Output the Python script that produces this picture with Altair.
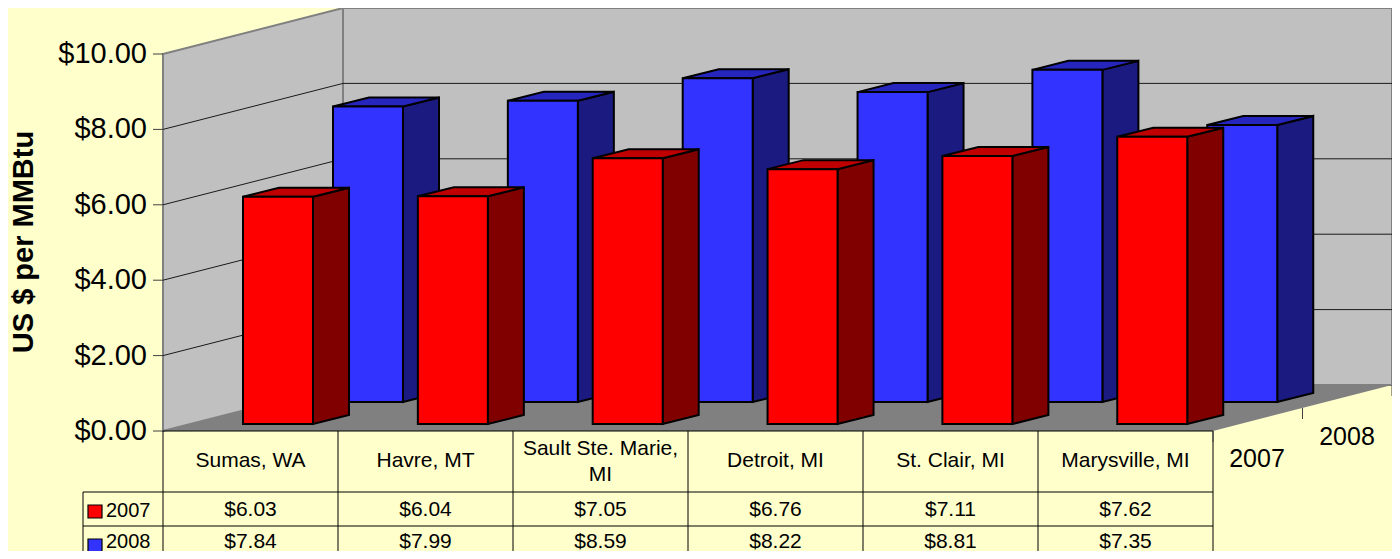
import altair as alt
import pandas as pd

categories = ["Sumas, WA", "Havre, MT", "Sault Ste. Marie,\nMI", "Detroit, MI", "St. Clair, MI", "Marysville, MI"]
series_names = ["2007", "2008"]
values_2007 = [6.03, 6.04, 7.05, 6.76, 7.11, 7.62]
values_2008 = [7.84, 7.99, 8.59, 8.22, 8.81, 7.35]
y_ticks = [0, 2, 4, 6, 8, 10]
y_title = "US $ per MMBtu"

# layout of the oblique projection, in page pixels
W, H = 1384, 543
PX = 37.7
Y0 = 431
xs = alt.Scale(domain=[8, 1392], nice=False, zero=False)
ys = alt.Scale(domain=[(Y0 - 551) / PX, (Y0 - 8) / PX], nice=False, zero=False)


def d(py):
    return (Y0 - py) / PX


X_ENC = alt.X("x:Q", scale=xs, axis=None)
Y_ENC = alt.Y("y:Q", scale=ys, axis=None, stack=None)


def poly(points, fill, stroke=None, sw=1.0):
    kw = {"fill": fill, "opacity": 1}
    if stroke:
        kw.update(stroke=stroke, strokeWidth=sw)
    return alt.Chart(pd.DataFrame(points)).mark_area(**kw).encode(
        x=X_ENC, y=Y_ENC, y2="y2:Q", detail="id:N"
    )


WALL_L, WALL_B, WALL_R, FLOOR_R = 163, 343, 1392, 1213
DEPTH = d(385)  # value shift of the back wall
TOP = 10

layers = []

# walls and floor
layers.append(poly([
    dict(x=WALL_B, y=TOP + DEPTH, y2=DEPTH, id="b"),
    dict(x=WALL_R, y=TOP + DEPTH, y2=DEPTH, id="b"),
], "#C0C0C0", "#808080", 2))
layers.append(poly([
    dict(x=WALL_L, y=TOP, y2=0, id="l"),
    dict(x=WALL_B, y=TOP + DEPTH, y2=DEPTH, id="l"),
], "#C0C0C0", "#808080", 2))
layers.append(poly([
    dict(x=WALL_L, y=0, y2=0, id="f"),
    dict(x=WALL_B, y=DEPTH, y2=0, id="f"),
    dict(x=FLOOR_R, y=DEPTH, y2=0, id="f"),
    dict(x=WALL_R, y=DEPTH, y2=DEPTH, id="f"),
], "#808080"))

# wall gridlines
grid = []
for v in y_ticks[1:-1]:
    grid += [dict(x=WALL_L, y=v, id=v), dict(x=WALL_B, y=v + DEPTH, id=v), dict(x=WALL_R, y=v + DEPTH, id=v)]
layers.append(alt.Chart(pd.DataFrame(grid)).mark_line(color="#1a1a1a", strokeWidth=1).encode(
    x=X_ENC, y=Y_ENC, detail="id:N"))

# bars
STEP, BW, DX = 174.85, 70, 36
DV = d(Y0 - 9)
BAR_SW = 2


def bars(vals, x_start, base_px, front, top, side):
    base = d(base_px)
    s, t, f = [], [], []
    for i, v in enumerate(vals):
        x0 = x_start + i * STEP
        x1 = x0 + BW
        s += [dict(x=x1, y=base + v, y2=base, id=i), dict(x=x1 + DX, y=base + v + DV, y2=base + DV, id=i)]
        t += [dict(x=x0, y=base + v, y2=base + v, id=i),
              dict(x=x0 + DX, y=base + v + DV, y2=base + v, id=i),
              dict(x=x1, y=base + v + DV, y2=base + v, id=i),
              dict(x=x1 + DX, y=base + v + DV, y2=base + v + DV, id=i)]
        f += [dict(x=x0, y=base + v, y2=base, id=i), dict(x=x1, y=base + v, y2=base, id=i)]
    return [poly(s, side, "black", BAR_SW), poly(t, top, "black", BAR_SW), poly(f, front, "black", BAR_SW)]


layers += bars(values_2008, 333, 402, "#3333FF", "#2626BF", "#1A1A80")
layers += bars(values_2007, 243, 424, "#FF0000", "#C00000", "#800000")


def rules(rows, color="black", sw=1.0):
    return alt.Chart(pd.DataFrame(rows)).mark_rule(color=color, strokeWidth=sw).encode(
        x=X_ENC, x2="x2:Q", y=Y_ENC, y2="y2:Q")


# data table
COL0, LEG_L = 163, 83
COLW = (FLOOR_R - COL0) / len(categories)
R_TOP, R1, R2 = 431, 492, 526
tr = [dict(x=COL0, x2=FLOOR_R, y=d(R_TOP), y2=d(R_TOP))]
tr += [dict(x=LEG_L, x2=FLOOR_R, y=d(r), y2=d(r)) for r in (R1, R2)]
for k in range(len(categories) + 1):
    tr.append(dict(x=COL0 + k * COLW, x2=COL0 + k * COLW, y=d(R_TOP), y2=d(551)))
tr.append(dict(x=LEG_L, x2=LEG_L, y=d(R1), y2=d(551)))
layers.append(rules(tr))

# depth axis ticks
FLOOR_MID = (FLOOR_R + WALL_R) / 2
dt = [dict(x=FLOOR_R, x2=FLOOR_R, y=0, y2=d(R_TOP + 11)),
      dict(x=FLOOR_MID, x2=FLOOR_MID, y=DEPTH / 2, y2=DEPTH / 2 - 11 / PX),
      dict(x=WALL_R, x2=WALL_R, y=DEPTH, y2=DEPTH - 11 / PX)]
layers.append(rules(dt, "#404040"))

# value axis ticks
layers.append(rules([dict(x=WALL_L - 10, x2=WALL_L, y=v, y2=v) for v in y_ticks], "#404040"))


def text(rows, size, **kw):
    return alt.Chart(pd.DataFrame(rows)).mark_text(
        font="Liberation Sans", fontSize=size, color="black", **kw
    ).encode(x=X_ENC, y=Y_ENC, text="t:N")


cells = []
multi = []
for k, c in enumerate(categories):
    cx = COL0 + (k + 0.5) * COLW
    if "\n" in c:
        multi.append(dict(x=cx, y=d(449), t=c))
    else:
        cells.append(dict(x=cx, y=d(461), t=c))
    cells.append(dict(x=cx, y=d(510), t=f"${values_2007[k]:.2f}"))
    cells.append(dict(x=cx, y=d(542), t=f"${values_2008[k]:.2f}"))
layers.append(text(cells, 21, align="center", baseline="middle"))
layers.append(text(multi, 21, align="center", baseline="middle", lineBreak="\n", lineHeight=26))

# legend keys in the table
keys = [(series_names[0], "#FF0000", R1), (series_names[1], "#3333FF", R2)]
for name, col, r0 in keys:
    top = r0 + 13
    layers.append(poly([dict(x=88, y=d(top), y2=d(top + 13), id=name),
                        dict(x=102, y=d(top), y2=d(top + 13), id=name)], col, "black", 1.2))
layers.append(text([dict(x=106, y=d(511), t=series_names[0]), dict(x=106, y=d(542), t=series_names[1])],
                   20, align="left", baseline="middle"))

# depth labels
layers.append(text([dict(x=1257, y=d(459), t=series_names[0]), dict(x=1347, y=d(437), t=series_names[1])],
                   25, align="center", baseline="middle"))

# value axis labels and title
layers.append(text([dict(x=147, y=v, t=f"${v:.2f}") for v in y_ticks], 29, align="right", baseline="middle"))
layers.append(alt.Chart(pd.DataFrame([dict(x=23.5, y=d(242), t=y_title)])).mark_text(
    font="Liberation Sans", fontSize=29, fontWeight="bold", color="black", angle=270,
    align="center", baseline="middle",
).encode(x=X_ENC, y=Y_ENC, text="t:N"))

chart = alt.layer(*layers).properties(
    width=W, height=H, background="#FFFFCC", padding=0,
    autosize=alt.AutoSizeParams(type="none"),
).configure_view(stroke=None)

chart.save("out.html", embed_options={"renderer": "svg", "actions": False})
